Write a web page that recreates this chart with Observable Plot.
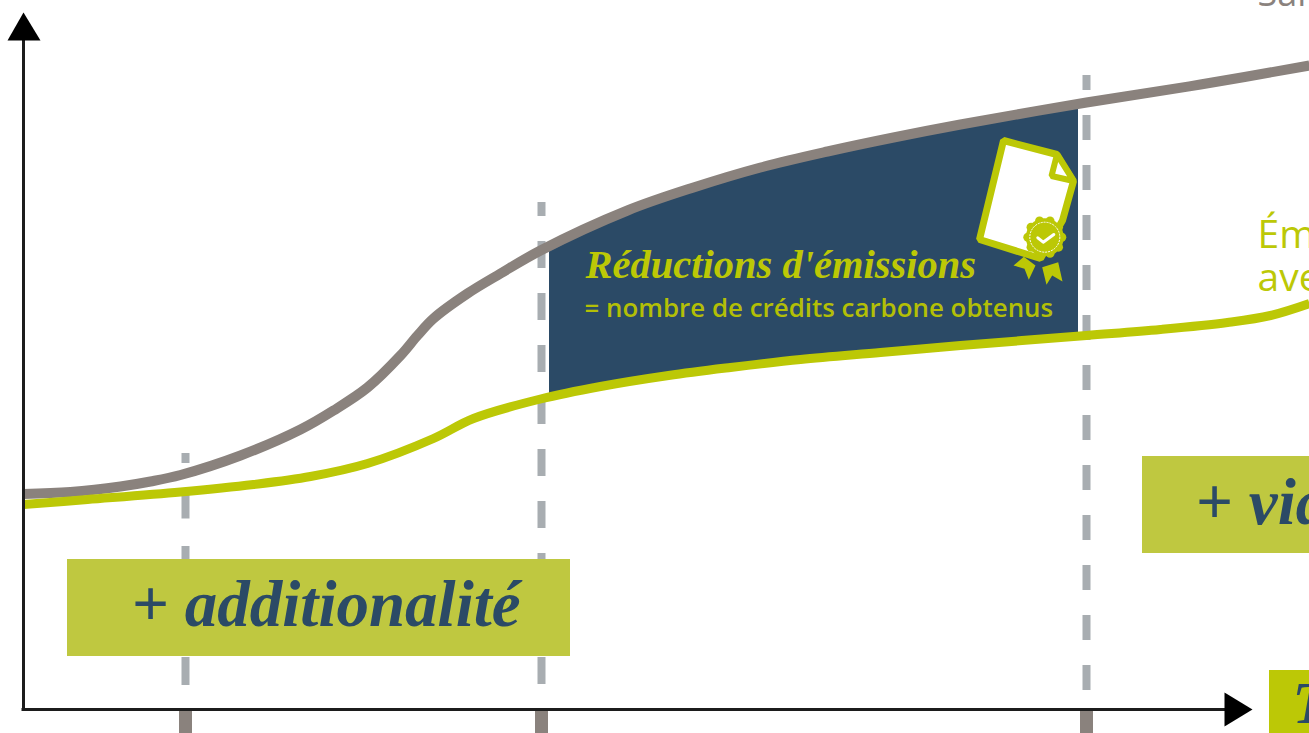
<!DOCTYPE html>
<html lang="fr">
<head>
<meta charset="utf-8">
<script src="https://cdn.jsdelivr.net/npm/d3@7"></script>
<script src="https://cdn.jsdelivr.net/npm/@observablehq/plot@0.6"></script>
<style>html,body{margin:0;padding:0;background:#fff;overflow:hidden}svg{display:block}</style>
</head>
<body>
<div id="chart"></div>
<script>
// Baseline scenario ("sans projet")
const baselineTime = [0,47,97,127,157,217,277,310,344,377,394,410,444,477,517,604,670,737,804,870,937,1063,1177,1286];
const baselineEmissions = [215.5,217.5,223,228,234.5,254,280,299,322,354,374,391,416,436,459,499,522,542,558,572,585,607,625,644];
// Project scenario ("avec projet")
const projectTime = [0,64,157,230,287,344,410,450,517,577,645,707,777,857,937,1063,1137,1204,1247,1286];
const projectEmissions = [205,210,217.5,225,233,246,271,291,310.5,323,334,342,350,357,364,374,380,387,394,406];
// Shaded reductions between the two scenarios
const reductionTime = [526,604,670,737,804,870,937,1055];
const reductionTop = [467,499,522,542,558,572,585,605];
const reductionBottom = [312.5,327,337,345,352.5,358,364,373];
// Project phases
const phaseTime = [162,518,1063];
const phaseTop = [256,507,634];
const phaseBottom = [24,25,19];
const phaseDash = ["28 27.5","27 25","25 25"];
// Text
const labelBaseline = "Sans projet";
const labelProject = ["Émissions","avec projet"];
const labelReductions = "Réductions d'émissions";
const labelCredits = "= nombre de crédits carbone obtenus";
const labelSteps = ["+ additionalité","+ viabilité"];
const labelTime = "Temps";
// Certificate icon outlines (same units as the axes)
const iconDoc = [[980,569],[1033.5,555],[1050,528.5],[1039,489],[1017,451],[956,470]];
const iconFold = [[1033.5,555],[1028,533.5],[1050,528.5]];
const iconRibbonA = [[990,444],[1000.3,452.7],[1012,444],[1005.3,429.7],[1001,440.7]];
const iconRibbonB = [[1018.7,442.3],[1034.7,447.3],[1039,428],[1028.7,434],[1023,424.7]];
const iconCheck = [[1014.3,471.7],[1019.7,467.3],[1030.3,475]];
const iconSeal = [[1021.3,472.3]];
const iconSealBumps = d3.range(10).map(i=>[1021.3+17*Math.cos(i*Math.PI/5),472.3+17*Math.sin(i*Math.PI/5)]);
const arrowUp = [[0,697],[-16,669],[17,669]];
const arrowRight = [[1229,0],[1201,17],[1201,-17]];

const GREY="#8a827d", LIME="#bcc806", NAVY="#2b4a66", DASH="#a8adb1", BOX="#bfc840";
const SANS="Open Sans", SCRIPT="Liberation Serif";
const zip=(a,b)=>a.map((v,i)=>({t:v,e:b[i]}));
const poly=(pts,o)=>Plot.line(pts,{x:d=>d[0],y:d=>d[1],curve:"linear-closed",strokeLinejoin:"miter",...o});
const label=(t,x,y,o)=>Plot.text([t],{x:()=>x,y:()=>y,text:d=>d,textAnchor:"start",lineAnchor:"bottom",...o});

const chart = Plot.plot({
  width:1309,height:733,margin:0,
  x:{domain:[-23,1286],range:[0,1309],axis:null},
  y:{domain:[-24,709],range:[733,0],axis:null},
  marks:[
    Plot.areaY(reductionTime.map((t,i)=>({t,a:reductionTop[i],b:reductionBottom[i]})),{x:"t",y1:"a",y2:"b",fill:NAVY,curve:"catmull-rom"}),
    ...phaseTime.map((t,i)=>Plot.ruleX([t],{y1:phaseBottom[i],y2:phaseTop[i],stroke:DASH,strokeWidth:8,strokeDasharray:phaseDash[i]})),
    Plot.rect([{a:44,b:547,c:53,d:150}],{x1:"a",x2:"b",y1:"c",y2:"d",fill:BOX}),
    Plot.rect([{a:1119,b:1286,c:156,d:253}],{x1:"a",x2:"b",y1:"c",y2:"d",fill:BOX}),
    Plot.rect([{a:1246,b:1286,c:-24,d:39}],{x1:"a",x2:"b",y1:"c",y2:"d",fill:LIME}),
    Plot.line(zip(baselineTime,baselineEmissions),{x:"t",y:"e",stroke:GREY,strokeWidth:10,strokeLinecap:"butt",curve:"catmull-rom"}),
    Plot.line(zip(projectTime,projectEmissions),{x:"t",y:"e",stroke:LIME,strokeWidth:9,strokeLinecap:"butt",curve:"catmull-rom"}),
    Plot.ruleX(phaseTime,{y1:0,y2:-24,stroke:GREY,strokeWidth:13}),
    Plot.ruleX([0],{y1:0,y2:675,stroke:"#1c1c1c",strokeWidth:3}),
    Plot.ruleY([0],{x1:-1.5,x2:1205,stroke:"#1c1c1c",strokeWidth:3}),
    poly(arrowUp,{fill:"#000"}),
    poly(arrowRight,{fill:"#000"}),
    poly(iconDoc,{fill:"#fff",stroke:LIME,strokeWidth:7}),
    poly(iconFold,{fill:"#fff",stroke:LIME,strokeWidth:6}),
    poly(iconRibbonA,{fill:LIME}),
    poly(iconRibbonB,{fill:LIME}),
    Plot.dot(iconSeal,{x:d=>d[0],y:d=>d[1],r:19,fill:LIME}),
    Plot.dot(iconSealBumps,{x:d=>d[0],y:d=>d[1],r:4.5,fill:LIME}),
    Plot.dot(iconSeal,{x:d=>d[0],y:d=>d[1],r:15,stroke:"#fff",strokeWidth:1,strokeDasharray:"2 1"}),
    Plot.line(iconCheck,{x:d=>d[0],y:d=>d[1],stroke:"#fff",strokeWidth:3,curve:"linear"}),
    label(labelBaseline,1234,704,{fill:GREY,fontFamily:SANS,fontSize:36}),
    label(labelProject[0],1234,461.5,{fill:LIME,fontFamily:SANS,fontSize:39}),
    label(labelProject[1],1234,419,{fill:LIME,fontFamily:SANS,fontSize:39}),
    label(labelReductions,562,432,{fill:LIME,fontFamily:SCRIPT,fontSize:40.5,fontStyle:"italic",fontWeight:"bold"}),
    label(labelCredits,561,393,{fill:"#b3bf06",fontFamily:SANS,fontSize:25.9,fontWeight:600}),
    label(labelSteps[0],108,84,{fill:NAVY,fontFamily:SCRIPT,fontSize:65,fontStyle:"italic",fontWeight:"bold"}),
    label(labelSteps[1],1172,186,{fill:NAVY,fontFamily:SCRIPT,fontSize:65,fontStyle:"italic",fontWeight:"bold"}),
    label(labelTime,1269,-13,{fill:NAVY,fontFamily:SCRIPT,fontSize:60,fontStyle:"italic",fontWeight:"bold"})
  ]
});
document.getElementById("chart").append(chart);
</script>
</body>
</html>
